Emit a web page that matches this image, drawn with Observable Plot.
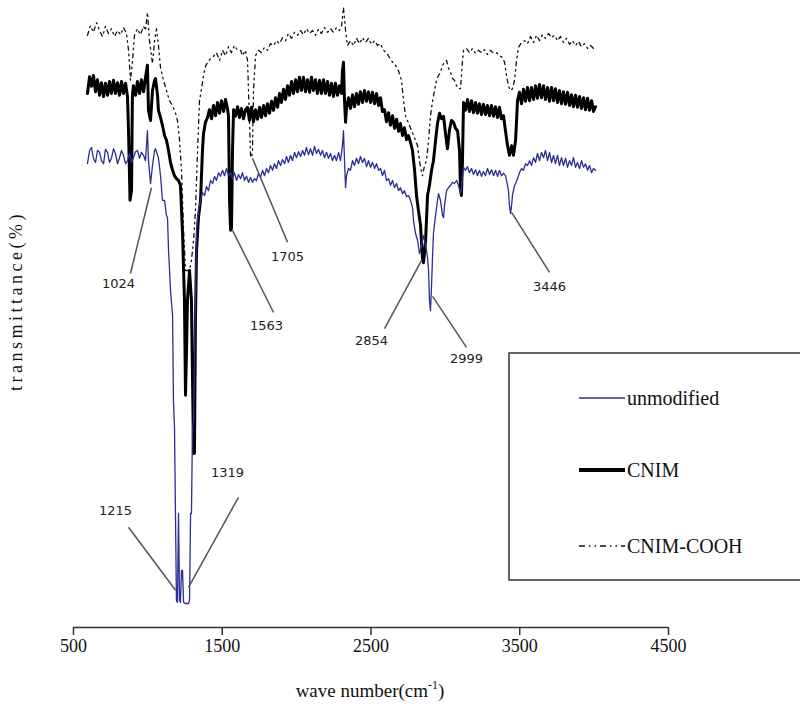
<!DOCTYPE html>
<html><head><meta charset="utf-8">
<script src="https://cdn.jsdelivr.net/npm/d3@7"></script>
<script src="https://cdn.jsdelivr.net/npm/@observablehq/plot@0.6"></script>
<style>body{margin:0;background:#fff}#chart{width:800px;height:711px;overflow:hidden}svg{display:block}</style>
</head><body><div id="chart"></div>
<script>
const xTicks = [500, 1500, 2500, 3500, 4500];
const seriesNames = ["unmodified", "CNIM", "CNIM-COOH"];

const unmodWN = [
594,608,621,634,648,661,675,688,702,715,
729,742,755,769,782,796,809,823,836,850,
863,876,890,903,917,930,944,957,971,984,
997,1004,1018,1031,1045,1051,1065,1071,1085,1098,
1112,1125,1132,1139,1145,1152,1166,1172,1179,1186,
1192,1199,1206,1213,1219,1226,1233,1240,1253,1273,
1280,1287,1293,1300,1307,1320,1327,1334,1347,1354,
1367,1381,1394,1408,1421,1435,1448,1461,1475,1488,
1502,1515,1529,1542,1556,1569,1582,1596,1609,1623,
1636,1650,1663,1677,1690,1703,1717,1730,1744,1757,
1771,1784,1798,1811,1824,1838,1851,1865,1878,1892,
1905,1919,1932,1945,1959,1972,1986,1999,2013,2026,
2040,2053,2066,2080,2093,2107,2120,2134,2147,2161,
2174,2187,2201,2214,2228,2241,2255,2268,2282,2295,
2308,2315,2322,2329,2335,2349,2362,2376,2389,2403,
2416,2429,2443,2456,2470,2483,2497,2510,2524,2537,
2551,2564,2577,2591,2604,2618,2631,2645,2658,2672,
2685,2698,2712,2725,2739,2752,2766,2779,2786,2799,
2813,2826,2840,2853,2867,2880,2887,2893,2900,2907,
2914,2920,2934,2947,2954,2967,2981,2988,2994,3008,
3021,3035,3048,3061,3075,3088,3102,3108,3115,3122,
3135,3149,3162,3176,3189,3203,3216,3229,3243,3256,
3270,3283,3297,3310,3324,3337,3351,3364,3377,3391,
3404,3418,3424,3431,3438,3445,3451,3465,3472,3485,
3498,3512,3525,3539,3552,3566,3579,3593,3606,3619,
3633,3646,3660,3673,3687,3700,3714,3727,3740,3754,
3767,3781,3794,3808,3821,3835,3848,3861,3875,3888,
3902,3915,3929,3942,3956,3969,3983,3996,4009];
const unmodT = [
77.3,79.5,80.0,78.2,77.5,79.5,79.2,77.8,77.3,79.7,
79.2,77.5,78.2,79.8,79.0,77.3,78.3,79.5,78.7,77.3,
77.8,79.0,77.5,78.3,79.3,79.5,78.2,79.2,78.7,77.8,
82.8,77.8,74.0,77.0,79.5,79.8,78.7,78.3,75.3,71.2,
71.2,68.7,68.3,62.8,60.0,56.2,52.0,37.8,33.3,17.8,
4.5,4.2,19.0,4.5,4.2,9.5,9.5,4.2,4.0,4.0,
4.5,19.0,19.0,33.3,34.5,54.5,66.2,68.3,70.3,71.2,
72.5,72.0,73.5,72.8,74.5,74.0,75.2,74.5,75.8,75.2,
76.2,75.3,76.5,75.3,75.8,74.8,75.8,74.5,75.5,74.8,
75.8,74.5,75.2,74.2,75.0,74.2,74.8,74.5,75.7,75.0,
76.2,75.3,76.5,75.8,77.0,76.2,77.3,76.5,77.8,77.0,
78.0,77.3,78.5,77.5,78.7,77.8,79.2,78.3,79.3,78.5,
79.5,78.7,80.0,78.8,79.8,78.7,80.2,79.0,79.7,78.7,
79.5,78.3,79.2,78.2,79.0,77.8,78.7,77.8,79.2,77.8,
80.3,82.8,77.8,73.3,75.3,76.5,76.2,77.8,77.0,78.2,
77.3,78.5,77.5,78.2,76.8,77.8,76.7,77.5,76.5,77.3,
76.2,76.5,75.3,76.2,74.5,74.8,73.7,74.5,73.3,74.0,
72.8,73.3,72.3,72.8,71.8,72.0,71.2,70.0,67.8,65.7,
64.5,62.3,63.7,65.3,63.7,61.7,59.5,54.5,52.8,57.0,
62.0,65.7,68.7,71.2,72.3,71.2,68.7,68.3,70.3,72.8,
73.3,73.7,74.2,74.0,74.5,73.7,72.3,72.8,75.3,76.7,
76.2,76.8,75.8,76.5,75.5,76.3,75.3,76.2,75.2,76.0,
75.3,76.5,75.5,76.3,75.3,76.2,75.2,76.2,75.3,75.7,
75.3,73.7,72.8,70.3,69.0,70.3,72.0,73.7,74.0,74.8,
75.8,76.5,76.2,77.3,77.0,77.8,77.0,78.3,77.5,79.0,
77.8,79.2,78.3,79.5,77.8,79.2,77.5,78.7,77.3,78.7,
77.0,78.3,77.0,78.2,76.7,77.8,77.0,78.3,76.7,77.5,
76.5,77.8,76.7,77.3,76.2,77.0,75.8,76.5,76.2];

const cnimWN = [
594,608,621,634,648,661,675,688,702,715,
729,742,755,769,782,796,809,823,836,850,
863,870,880,890,896,903,917,930,944,957,
971,984,997,1004,1018,1031,1045,1051,1065,1071,
1085,1098,1112,1125,1139,1152,1166,1179,1192,1206,
1219,1233,1246,1253,1260,1266,1280,1293,1307,1313,
1320,1327,1340,1354,1367,1374,1387,1401,1414,1428,
1441,1455,1468,1482,1495,1509,1522,1535,1542,1549,
1556,1562,1569,1576,1589,1603,1616,1629,1643,1656,
1670,1683,1697,1710,1724,1737,1751,1764,1778,1791,
1804,1818,1831,1845,1858,1872,1885,1898,1912,1925,
1939,1952,1966,1979,1993,2006,2019,2033,2046,2060,
2073,2087,2100,2113,2127,2140,2154,2167,2181,2194,
2208,2221,2235,2248,2261,2275,2288,2302,2308,2315,
2322,2329,2335,2349,2362,2376,2389,2403,2416,2429,
2443,2456,2470,2483,2497,2510,2524,2537,2551,2564,
2577,2591,2604,2618,2631,2645,2658,2672,2685,2698,
2712,2725,2739,2752,2766,2779,2793,2806,2819,2833,
2846,2853,2867,2880,2893,2907,2920,2934,2947,2961,
2974,2988,3001,3014,3028,3041,3055,3068,3082,3095,
3102,3108,3115,3122,3135,3149,3162,3176,3189,3203,
3216,3229,3243,3256,3270,3283,3297,3310,3324,3337,
3351,3364,3377,3391,3404,3418,3431,3445,3458,3472,
3485,3498,3512,3525,3539,3552,3566,3579,3593,3606,
3619,3633,3646,3660,3673,3687,3700,3714,3727,3740,
3754,3767,3781,3794,3808,3821,3835,3848,3861,3875,
3888,3902,3915,3929,3942,3956,3969,3983,3996,4009];
const cnimT = [
89.0,91.8,90.2,92.0,89.3,91.3,88.7,90.8,88.5,90.7,
88.7,91.0,89.0,91.2,89.0,90.8,88.7,91.0,89.0,90.7,
88.5,82.8,71.2,72.8,88.7,90.3,88.7,91.0,89.0,91.3,
89.3,91.7,93.7,86.2,84.5,89.5,91.2,91.5,88.7,86.2,
85.0,83.7,82.0,81.2,79.5,77.5,76.2,75.3,74.8,74.5,
73.7,65.7,54.5,38.7,46.2,54.5,59.5,54.5,29.0,29.0,
51.2,62.8,68.3,71.2,79.5,82.3,84.2,85.0,86.3,84.8,
87.0,85.3,87.5,85.7,87.8,86.0,88.0,86.5,85.3,71.2,
66.2,66.5,79.5,86.3,85.2,86.8,85.0,86.5,84.8,86.3,
86.7,84.5,86.7,84.3,86.3,84.7,86.7,85.0,87.0,85.3,
87.3,85.7,87.7,86.2,88.3,86.7,89.0,87.5,89.7,88.0,
90.3,88.7,91.0,89.0,91.3,89.3,91.7,89.5,91.7,89.3,
91.3,89.2,91.7,89.5,91.3,89.0,91.2,89.0,91.3,89.0,
91.0,88.7,90.7,88.5,90.7,88.7,90.3,89.0,92.8,94.2,
87.8,84.2,86.5,88.3,86.5,88.8,86.8,89.0,87.2,89.3,
87.5,89.5,87.7,89.3,87.5,89.2,87.3,89.0,87.0,88.3,
86.0,86.3,84.3,85.8,83.7,85.3,83.2,84.7,82.7,84.0,
82.0,83.3,81.3,82.0,80.8,79.5,76.2,72.0,69.5,67.0,
61.5,60.8,64.5,72.0,73.7,76.2,77.8,81.2,84.0,85.7,
84.8,85.2,82.3,79.8,83.0,84.5,84.2,83.2,82.8,79.5,
72.8,72.0,77.8,87.5,86.2,88.0,86.0,87.8,85.8,87.5,
85.7,87.3,85.5,87.2,85.5,87.0,85.3,87.0,85.2,86.8,
85.0,86.7,84.8,85.3,82.8,80.3,78.7,80.3,78.7,81.2,
87.8,89.2,87.3,89.7,87.7,90.0,87.8,90.0,88.0,90.3,
88.2,90.5,88.3,90.3,88.0,90.0,87.7,90.0,87.8,89.8,
87.5,89.5,87.3,89.3,87.2,89.2,87.0,88.8,86.8,88.7,
86.7,88.5,86.5,88.3,86.3,88.2,86.2,87.8,86.0,86.8];

const coohWN = [
594,614,634,655,675,695,715,735,755,776,
796,816,836,856,870,883,897,910,930,950,
971,984,997,1011,1024,1031,1045,1058,1071,1085,
1105,1125,1145,1166,1186,1199,1213,1226,1240,1253,
1266,1280,1293,1307,1320,1334,1347,1361,1374,1387,
1401,1421,1441,1461,1482,1502,1522,1542,1562,1582,
1603,1623,1636,1656,1670,1683,1690,1697,1703,1710,
1724,1744,1764,1784,1804,1824,1845,1865,1885,1905,
1925,1945,1966,1986,2006,2026,2046,2066,2087,2107,
2127,2147,2167,2187,2208,2228,2248,2268,2288,2302,
2315,2329,2342,2362,2382,2403,2423,2443,2463,2483,
2503,2524,2544,2564,2584,2604,2624,2645,2665,2685,
2705,2719,2732,2745,2766,2786,2799,2813,2826,2840,
2846,2860,2873,2887,2900,2914,2927,2940,2954,2967,
2981,2994,3008,3021,3035,3048,3061,3075,3088,3102,
3115,3122,3142,3162,3182,3203,3223,3243,3263,3283,
3303,3324,3344,3364,3384,3398,3411,3424,3438,3451,
3465,3478,3492,3512,3532,3552,3572,3593,3613,3633,
3653,3673,3693,3714,3734,3754,3774,3794,3814,3835,
3855,3875,3895,3915,3935,3956,3976,3996,4009];
const coohT = [
98.7,100.3,99.2,100.8,99.5,98.5,100.2,99.0,99.8,98.5,
99.5,98.8,100.0,99.0,96.2,91.2,94.5,98.7,99.8,98.8,
100.2,99.5,102.5,97.8,95.3,94.0,97.8,99.8,97.0,93.3,
91.2,89.5,87.8,87.0,85.7,84.5,81.2,76.2,66.2,59.5,
59.5,59.5,61.2,64.5,69.5,79.5,87.8,89.8,92.0,93.5,
94.2,94.8,95.2,95.8,94.5,96.2,95.3,96.8,95.8,97.0,
96.2,96.2,95.3,96.2,94.5,84.5,78.7,78.3,79.5,89.5,
95.3,96.2,95.8,96.7,96.2,97.3,97.0,97.8,97.3,98.3,
97.8,99.0,98.2,99.2,98.7,99.5,98.8,99.8,99.0,99.5,
98.7,99.7,99.0,100.0,99.2,99.8,99.2,100.0,99.5,100.3,
103.3,99.5,97.0,97.8,97.0,98.2,97.3,98.3,97.5,98.2,
97.2,97.8,97.0,97.3,96.2,95.8,95.0,94.2,93.7,92.8,
91.2,87.8,85.3,84.5,83.2,82.0,81.2,80.3,77.8,75.8,
75.3,77.0,77.8,81.2,85.3,87.8,89.5,91.2,92.0,92.5,
93.7,94.2,94.5,93.2,92.5,91.5,91.2,90.3,89.8,89.8,
94.5,96.2,96.5,95.8,96.5,95.7,96.2,95.8,96.3,95.5,
96.2,95.7,95.8,95.3,95.0,94.2,92.0,90.3,89.5,89.8,
91.2,94.5,96.7,97.5,97.8,97.3,98.5,97.5,98.7,97.8,
98.8,98.2,99.0,98.3,98.7,97.8,98.5,97.5,98.2,97.2,
97.8,97.0,97.7,96.8,97.3,96.5,97.0,96.5,96.7];

// peak annotations (wavenumber, transmittance)
const peakLabels = ["1024", "1215", "1319", "1563", "1705", "2854", "2999", "3446"];
const peakTipX  = [1024, 1186, 1273, 1569, 1703, 2840, 2914, 3445];
const peakTipY  = [73.3, 6.2, 6.7, 66.2, 78.2, 61.2, 55.2, 69.2];
const peakEndX  = [883, 870, 1609, 1845, 1939, 2591, 3142, 3700];
const peakEndY  = [59.0, 16.7, 21.7, 52.5, 64.2, 49.8, 46.7, 59.2];
const peakTextX = [803, 782, 1535, 1798, 1939, 2503, 3142, 3700];
const peakTextY = [57.2, 19.5, 25.7, 50.3, 61.8, 47.8, 44.8, 56.8];

const toRows = (wn, t) => wn.map((x, i) => ({x, y: t[i]}));
const unmod = toRows(unmodWN, unmodT);
const cnim = toRows(cnimWN, cnimT);
const cooh = toRows(coohWN, coohT);
const peaks = peakLabels.map((label, i) => ({
  label, tx: peakTipX[i], ty: peakTipY[i], ex: peakEndX[i], ey: peakEndY[i],
  lx: peakTextX[i], ly: peakTextY[i]
}));

const BLUE = "#2b2e92";
const DASH = "4,4,1.5,4,1.5,4";
const SERIF = "'Liberation Serif', 'Times New Roman', serif";

const svg = Plot.plot({
  width: 800, height: 711,
  marginLeft: 73, marginRight: 132, marginTop: 0, marginBottom: 84,
  x: {domain: [500, 4500]},
  y: {domain: [0, 104.5], axis: null},
  style: {fontFamily: SERIF, background: "#fff", color: "#111"},
  marks: [
    Plot.ruleY([0], {x1: 500, x2: 4500, stroke: "#333", strokeWidth: 1.5}),
    Plot.axisX({ticks: xTicks, tickFormat: d => String(d), tickSize: 8, tickPadding: 4,
      fontSize: 18, label: null, stroke: "#333", strokeWidth: 1.5}),
    Plot.line(cooh, {x: "x", y: "y", stroke: "#111", strokeWidth: 1.3, strokeDasharray: DASH}),
    Plot.line(cnim, {x: "x", y: "y", stroke: "#000", strokeWidth: 3}),
    Plot.line(unmod, {x: "x", y: "y", stroke: BLUE, strokeWidth: 1.3}),
    Plot.link(peaks, {x1: "tx", y1: "ty", x2: "ex", y2: "ey", stroke: "#555", strokeWidth: 1.5}),
    Plot.text(peaks, {x: "lx", y: "ly", text: "label", fontFamily: "'DejaVu Sans', sans-serif",
      fontSize: 13, fill: "#222"})
  ]
});

const s = d3.select(svg);
// y title
s.append("text")
  .attr("transform", "translate(22,301) rotate(-90)")
  .attr("text-anchor", "middle").attr("font-family", SERIF)
  .attr("font-size", 18).attr("letter-spacing", "3.5px").attr("fill", "#111")
  .text("transmittance(%)");
// x title with superscript
const xt = s.append("text").attr("x", 370).attr("y", 697).attr("text-anchor", "middle")
  .attr("font-family", SERIF).attr("font-size", 19).attr("fill", "#111");
xt.append("tspan").text("wave number(cm");
xt.append("tspan").attr("font-size", 12).attr("dy", -8).text("-1");
xt.append("tspan").attr("dy", 8).text(")");

// legend
const lg = s.append("g");
lg.append("rect").attr("x", 509).attr("y", 353).attr("width", 310).attr("height", 227)
  .attr("fill", "#fff").attr("stroke", "#333").attr("stroke-width", 1.5);
const legY = [398, 470, 546];
const legStroke = [BLUE, "#000", "#111"];
const legWidth = [1.5, 4, 1.3];
const legDash = [null, null, "6,4,1.5,4,1.5,4"];
seriesNames.forEach((name, i) => {
  lg.append("line").attr("x1", 579).attr("x2", 625).attr("y1", legY[i]).attr("y2", legY[i])
    .attr("stroke", legStroke[i]).attr("stroke-width", legWidth[i]).attr("stroke-dasharray", legDash[i]);
  lg.append("text").attr("x", 627).attr("y", legY[i]).attr("dy", "0.35em")
    .attr("text-anchor", "start").attr("font-family", SERIF)
    .attr("font-size", 20).attr("fill", "#111").text(name);
});

document.getElementById("chart").appendChild(svg);
</script>
</body></html>
